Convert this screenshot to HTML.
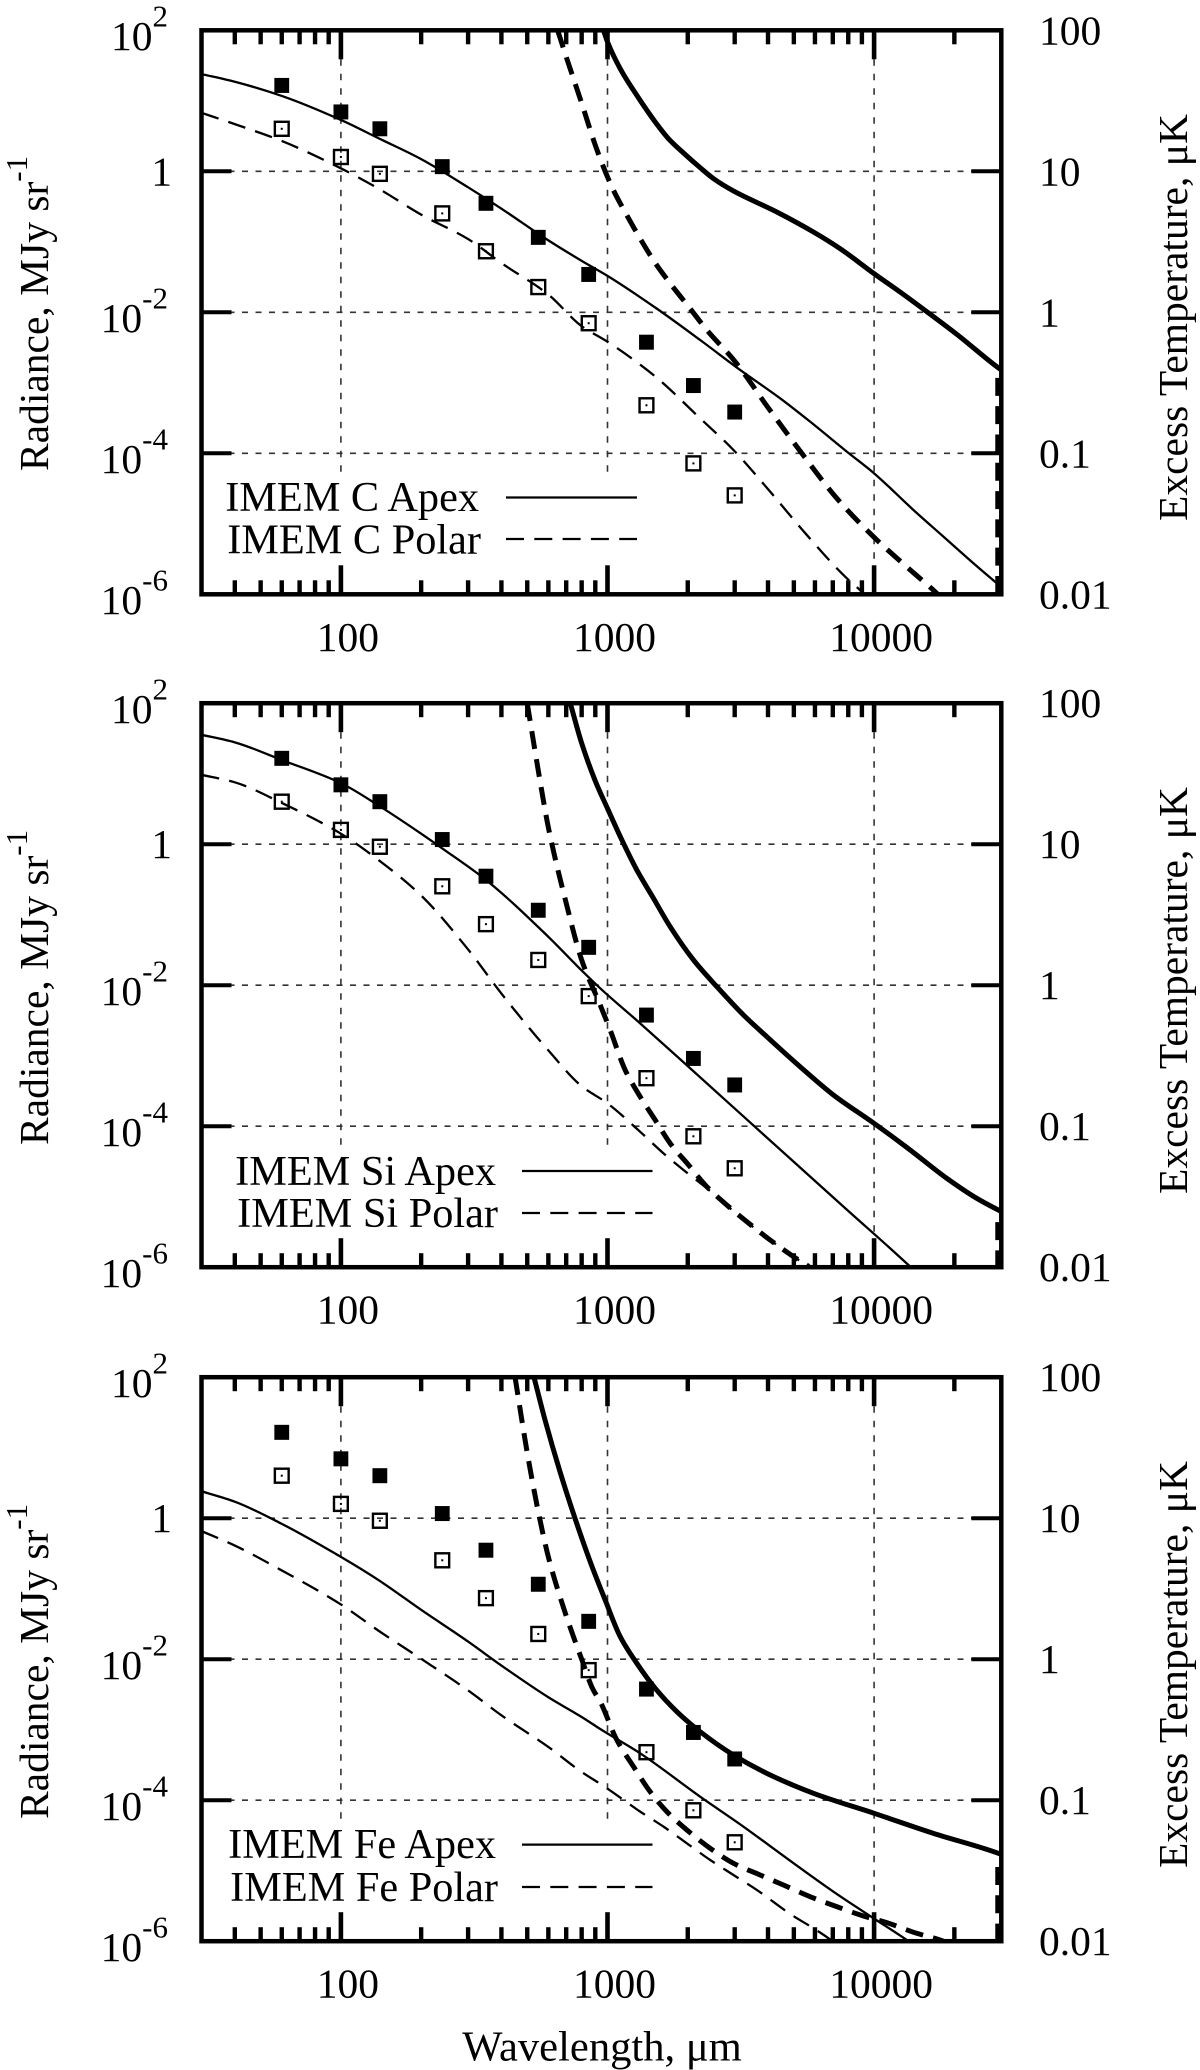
<!DOCTYPE html>
<html lang="en">
<head>
<meta charset="utf-8">
<title>IMEM radiance and excess temperature versus wavelength</title>
<style>
html,body{margin:0;padding:0;background:#fff;}
svg{display:block;}
text{font-family:"Liberation Serif","DejaVu Serif",serif;font-size:41.5px;fill:#000;}
text.legend-label{font-size:42.3px;}
</style>
</head>
<body>
<svg id="figure" xmlns="http://www.w3.org/2000/svg" width="1200" height="2070" viewBox="0 0 1200 2070">
  <rect x="0" y="0" width="1200" height="2070" fill="#fff"/>

  <g id="panel-0">
    <g id="grid-0"></g>
    <rect x="220" y="476" width="420" height="88" fill="#fff"/>
    <g id="marks-0"></g>
    <g id="axes-0"></g>
    <text transform="translate(48,471) rotate(-90)">Radiance, MJy sr<tspan dy="-21" font-size="31">-1</tspan></text>
    <text transform="translate(1187,521) rotate(-90)">Excess Temperature, μK</text>
    <text class="legend-label" x="479" y="511" text-anchor="end">IMEM C Apex</text>
    <text class="legend-label" x="481" y="553.5" text-anchor="end">IMEM C Polar</text>
    <line x1="506" x2="637" y1="497.5" y2="497.5" stroke="#000" stroke-width="2.2"/>
    <line x1="506" x2="637" y1="539" y2="539" stroke="#000" stroke-width="2.2" stroke-dasharray="18 10.3"/>
  </g>

  <g id="panel-1">
    <g id="grid-1"></g>
    <rect x="225" y="1151" width="430" height="86" fill="#fff"/>
    <g id="marks-1"></g>
    <g id="axes-1"></g>
    <text transform="translate(48,1145) rotate(-90)">Radiance, MJy sr<tspan dy="-21" font-size="31">-1</tspan></text>
    <text transform="translate(1187,1194) rotate(-90)">Excess Temperature, μK</text>
    <text class="legend-label" x="496" y="1185" text-anchor="end">IMEM Si Apex</text>
    <text class="legend-label" x="498" y="1227" text-anchor="end">IMEM Si Polar</text>
    <line x1="522" x2="652.5" y1="1171" y2="1171" stroke="#000" stroke-width="2.2"/>
    <line x1="522" x2="652.5" y1="1213" y2="1213" stroke="#000" stroke-width="2.2" stroke-dasharray="18 10.3"/>
  </g>

  <g id="panel-2">
    <g id="grid-2"></g>
    <rect x="225" y="1824" width="430" height="88" fill="#fff"/>
    <g id="marks-2"></g>
    <g id="axes-2"></g>
    <text transform="translate(48,1819) rotate(-90)">Radiance, MJy sr<tspan dy="-21" font-size="31">-1</tspan></text>
    <text transform="translate(1187,1868) rotate(-90)">Excess Temperature, μK</text>
    <text class="legend-label" x="496" y="1858" text-anchor="end">IMEM Fe Apex</text>
    <text class="legend-label" x="498" y="1901" text-anchor="end">IMEM Fe Polar</text>
    <line x1="522" x2="652.5" y1="1844.6" y2="1844.6" stroke="#000" stroke-width="2.2"/>
    <line x1="522" x2="652.5" y1="1887" y2="1887" stroke="#000" stroke-width="2.2" stroke-dasharray="18 10.3"/>
  </g>

  <text x="602" y="2060.5" text-anchor="middle" style="font-size:42.6px">Wavelength, μm</text>
</svg>

<script>
// Observed points, shared by all panels (wavelength in um, log10 radiance)
const obsWavelengths = [60, 100, 140, 240, 350, 550, 850, 1400, 2100, 3000];
const obsFilledLog = [1.218, 0.842, 0.603, 0.066, -0.454, -0.937, -1.463, -2.424, -3.039, -3.415];
const obsOpenLog = [0.603, 0.203, -0.036, -0.597, -1.134, -1.642, -2.155, -3.319, -4.143, -4.597];

// Carbon panel
const carbonApexLam = [30, 40, 60, 100, 140, 200, 300, 400, 600, 800, 1000, 1531, 2226, 3144, 4442, 5754, 7899, 10000, 14044, 18197, 23580, 28840, 30000];
const carbonApexLog = [1.379, 1.27, 1.069, 0.728, 0.460, 0.173, -0.227, -0.53, -0.98, -1.27, -1.483, -1.948, -2.393, -2.818, -3.22, -3.551, -3.976, -4.284, -4.804, -5.182, -5.56, -5.844, -5.9];
const carbonPolarLam = [30, 40, 60, 100, 140, 200, 300, 400, 600, 800, 1000, 1500, 2226, 2968, 4074, 5591, 7780, 9120, 10000];
const carbonPolarLog = [0.830, 0.669, 0.430, 0.042, -0.257, -0.615, -0.961, -1.301, -1.749, -2.197, -2.418, -2.901, -3.504, -3.953, -4.544, -5.158, -5.749, -5.986, -6.15];
const carbonApexTempLam = [966, 1000, 1116, 1288, 1510, 1693, 1928, 2226, 2498, 2968, 4315, 5923, 7457, 10000, 12514, 15524, 20400, 28840, 30000];
const carbonApexTempLog = [2, 1.835, 1.456, 1.078, 0.70, 0.463, 0.26, 0.052, -0.104, -0.279, -0.577, -0.861, -1.097, -1.452, -1.712, -1.972, -2.31, -2.771, -2.818];
const carbonPolarTempLam = [650, 700, 800, 900, 960, 1053, 1182, 1326, 1510, 1718, 2042, 2358, 3012, 4020, 5355, 7244, 10090, 12880, 17180, 19000];
const carbonPolarTempLog = [2, 1.624, 0.967, 0.370, 0.085, -0.27, -0.624, -0.955, -1.30, -1.59, -1.948, -2.251, -2.70, -3.362, -4.0, -4.638, -5.206, -5.57, -5.986, -6.15];

// Silicon panel
const siliconApexLam = [30, 40, 60, 100, 140, 200, 240, 350, 600, 800, 939, 1326, 1984, 3958, 7674, 13450, 15000];
const siliconApexLog = [1.552, 1.445, 1.194, 0.866, 0.537, 0.149, -0.06, -0.507, -1.313, -1.791, -2.044, -2.541, -3.136, -4.16, -5.141, -5.969, -6.14];
const siliconPolarLam = [30, 40, 60, 100, 140, 200, 300, 400, 600, 800, 1000, 1345, 1622, 1928, 2358, 3000, 4074, 4985, 5675, 6500];
const siliconPolarLog = [0.985, 0.878, 0.585, 0.149, -0.239, -0.728, -1.493, -2.119, -2.925, -3.433, -3.676, -4.101, -4.385, -4.621, -4.881, -5.22, -5.614, -5.85, -5.99, -6.2];
const siliconApexTempLam = [725, 800, 900, 1000, 1132, 1288, 1488, 1718, 2101, 2570, 3236, 3958, 5278, 7037, 10000, 13650, 18730, 24270, 29240, 30000];
const siliconApexTempLog = [2, 1.433, 0.896, 0.507, 0.06, -0.366, -0.768, -1.17, -1.642, -2.02, -2.423, -2.73, -3.156, -3.557, -3.96, -4.337, -4.739, -5.023, -5.189, -5.21];
const siliconPolarTempLam = [500, 550, 600, 700, 800, 939, 1023, 1165, 1326, 1510, 1718, 2014, 2358, 2802, 3330, 4074, 4985, 5675, 6500];
const siliconPolarTempLog = [2, 1.045, 0.239, -0.836, -1.642, -2.281, -2.635, -3.203, -3.581, -3.912, -4.243, -4.55, -4.858, -5.118, -5.354, -5.614, -5.85, -5.99, -6.2];

// Iron panel
const ironApexLam = [30, 40, 60, 100, 140, 200, 300, 400, 600, 800, 939, 1326, 2226, 3236, 4705, 7037, 10000, 13260, 15000];
const ironApexLog = [0.382, 0.234, -0.08, -0.549, -0.89, -1.30, -1.75, -2.09, -2.54, -2.82, -2.99, -3.335, -3.95, -4.375, -4.824, -5.297, -5.68, -5.983, -6.13];
const ironPolarLam = [30, 40, 60, 100, 140, 200, 300, 400, 600, 800, 966, 1326, 1622, 1984, 2427, 2968, 3631, 4909, 5923, 6745, 8000];
const ironPolarLog = [-0.183, -0.388, -0.741, -1.223, -1.609, -1.994, -2.443, -2.796, -3.245, -3.6, -3.798, -4.162, -4.375, -4.611, -4.848, -5.061, -5.273, -5.628, -5.817, -5.959, -6.2];
const ironApexTempLam = [530, 583, 664, 755, 860, 980, 1116, 1288, 1510, 1820, 2226, 2968, 3958, 5923, 10000, 16690, 29240, 30000];
const ironApexTempLog = [2, 1.393, 0.655, 0.0, -0.61, -1.16, -1.68, -2.058, -2.413, -2.744, -3.028, -3.359, -3.619, -3.902, -4.186, -4.47, -4.753, -4.77];
const ironPolarTempLam = [450, 500, 550, 600, 700, 800, 880, 939, 1084, 1252, 1445, 1669, 1984, 2427, 2968, 3737, 4571, 5754, 7244, 9120, 11155, 14450, 17680, 21000];
const ironPolarTempLog = [2, 0.928, 0.092, -0.549, -1.384, -2.0, -2.42, -2.602, -3.146, -3.524, -3.879, -4.162, -4.422, -4.682, -4.895, -5.061, -5.203, -5.368, -5.51, -5.642, -5.737, -5.888, -5.983, -6.1];

// Dashed drop at the right edge: log10 radiance where it starts, per panel
const edgeDropStartLog = [-2.93, -5.36, -4.947];
const edgeDropEndLog = -6;
const edgeDropLam = 29100;

// Axis ticks
const xMajorTicks = [100, 1000, 10000];
const xMajorLabels = ['100', '1000', '10000'];
const xMinorTicks = [40, 50, 60, 70, 80, 90, 200, 300, 400, 500, 600, 700, 800, 900, 2000, 3000, 4000, 5000, 6000, 7000, 8000, 9000, 20000];
const yTickLogs = [2, 0, -2, -4, -6];
const yLeftBase = ['10', '1', '10', '10', '10'];
const yLeftExponent = ['2', '', '-2', '-4', '-6'];
const yRightLabels = ['100', '10', '1', '0.1', '0.01'];

// Layout
const NS = 'http://www.w3.org/2000/svg';
const plotLeft = 201.5;
const plotRight = 1001.3;
const plotHeight = 564;
const plotTops = [30.3, 703.2, 1377.2];
const panelNames = ['carbon', 'silicon', 'iron'];
const xDecade = (plotRight - plotLeft) / 3;

function xAxis(lam) {
  return plotLeft + (Math.log10(lam) - Math.log10(30)) * xDecade;
}
function yAxis(panel, logValue) {
  return plotTops[panel] + (2 - logValue) * plotHeight / 8;
}
function make(tag, attrs, parent) {
  const node = document.createElementNS(NS, tag);
  Object.keys(attrs).forEach(function (k) { node.setAttribute(k, attrs[k]); });
  parent.appendChild(node);
  return node;
}
// Monotone cubic through the points, so sparse readings do not overshoot
function smoothPath(points) {
  const n = points.length;
  const h = [];
  const s = [];
  for (let i = 0; i < n - 1; i++) {
    h[i] = Math.max(points[i + 1][0] - points[i][0], 0.001);
    s[i] = (points[i + 1][1] - points[i][1]) / h[i];
  }
  const m = [];
  m[0] = s[0];
  m[n - 1] = s[n - 2];
  for (let i = 1; i < n - 1; i++) {
    if (s[i - 1] * s[i] <= 0) {
      m[i] = 0;
    } else {
      const w1 = 2 * h[i] + h[i - 1];
      const w2 = h[i] + 2 * h[i - 1];
      m[i] = (w1 + w2) / (w1 / s[i - 1] + w2 / s[i]);
    }
  }
  let d = 'M' + points[0][0].toFixed(2) + ' ' + points[0][1].toFixed(2);
  for (let i = 0; i < n - 1; i++) {
    const c1x = points[i][0] + h[i] / 3;
    const c1y = points[i][1] + m[i] * h[i] / 3;
    const c2x = points[i + 1][0] - h[i] / 3;
    const c2y = points[i + 1][1] - m[i + 1] * h[i] / 3;
    d += 'C' + c1x.toFixed(2) + ' ' + c1y.toFixed(2) + ' ' + c2x.toFixed(2) + ' ' + c2y.toFixed(2) + ' ' + points[i + 1][0].toFixed(2) + ' ' + points[i + 1][1].toFixed(2);
  }
  return d;
}

const panelCurves = [
  [
    { label: 'apex-radiance', lam: carbonApexLam, val: carbonApexLog, width: 2.3, dash: '' },
    { label: 'polar-radiance', lam: carbonPolarLam, val: carbonPolarLog, width: 2.3, dash: '18 10.3' },
    { label: 'apex-temperature', lam: carbonApexTempLam, val: carbonApexTempLog, width: 5, dash: '' },
    { label: 'polar-temperature', lam: carbonPolarTempLam, val: carbonPolarTempLog, width: 5, dash: '18 10.3' }
  ],
  [
    { label: 'apex-radiance', lam: siliconApexLam, val: siliconApexLog, width: 2.3, dash: '' },
    { label: 'polar-radiance', lam: siliconPolarLam, val: siliconPolarLog, width: 2.3, dash: '18 10.3' },
    { label: 'apex-temperature', lam: siliconApexTempLam, val: siliconApexTempLog, width: 5, dash: '' },
    { label: 'polar-temperature', lam: siliconPolarTempLam, val: siliconPolarTempLog, width: 5, dash: '18 10.3' }
  ],
  [
    { label: 'apex-radiance', lam: ironApexLam, val: ironApexLog, width: 2.3, dash: '' },
    { label: 'polar-radiance', lam: ironPolarLam, val: ironPolarLog, width: 2.3, dash: '18 10.3' },
    { label: 'apex-temperature', lam: ironApexTempLam, val: ironApexTempLog, width: 5, dash: '' },
    { label: 'polar-temperature', lam: ironPolarTempLam, val: ironPolarTempLog, width: 5, dash: '18 10.3' }
  ]
];

const svgRoot = document.getElementById('figure');
const defs = make('defs', {}, svgRoot);



plotTops.forEach(function (top, p) {
  const name = panelNames[p];
  const bottom = top + plotHeight;
  const gridLayer = document.getElementById('grid-' + p);
  const markLayer = document.getElementById('marks-' + p);
  const axisLayer = document.getElementById('axes-' + p);

  const clip = make('clipPath', { id: 'clip-' + p }, defs);
  make('rect', { x: plotLeft, y: top, width: plotRight - plotLeft, height: plotHeight }, clip);

  // Grid
  yTickLogs.slice(1, 4).forEach(function (v) {
    const line = make('line', { x1: plotLeft, x2: plotRight, y1: yAxis(p, v), y2: yAxis(p, v), stroke: '#333', 'stroke-width': 1.6, 'stroke-dasharray': '6 7.5' }, gridLayer);
    
    
  });
  xMajorTicks.forEach(function (t) {
    const line = make('line', { x1: xAxis(t), x2: xAxis(t), y1: top, y2: bottom, stroke: '#333', 'stroke-width': 1.6, 'stroke-dasharray': '6.5 8' }, gridLayer);
    
    
  });

  // Curves
  const curveGroup = make('g', { 'clip-path': 'url(#clip-' + p + ')' }, markLayer);
  
  
  panelCurves[p].forEach(function (c) {
    const pts = c.lam.map(function (l, i) { return [xAxis(l), yAxis(p, c.val[i])]; });
    const attrs = { d: smoothPath(pts), fill: 'none', stroke: '#000', 'stroke-width': c.width };
    if (c.dash) { attrs['stroke-dasharray'] = c.dash; }
    const path = make('path', attrs, curveGroup);
    
    
  });
  const drop = make('line', { x1: xAxis(edgeDropLam), x2: xAxis(edgeDropLam), y1: yAxis(p, edgeDropStartLog[p]), y2: yAxis(p, edgeDropEndLog), stroke: '#000', 'stroke-width': 5, 'stroke-dasharray': '18 10.3' }, curveGroup);
  
  

  // Observed points
  obsWavelengths.forEach(function (l, i) {
    const fx = xAxis(l);
    const fy = yAxis(p, obsFilledLog[i]);
    const filled = make('rect', { x: fx - 7.4, y: fy - 7.5, width: 14.8, height: 15, fill: '#000' }, markLayer);
    
    
    const oy = yAxis(p, obsOpenLog[i]);
    const open = make('rect', { x: fx - 6.9, y: oy - 7, width: 13.8, height: 14, fill: 'none', stroke: '#000', 'stroke-width': 2.4 }, markLayer);
    
    
    const dot = make('rect', { x: fx - 1, y: oy - 1, width: 2, height: 2, fill: '#000' }, markLayer);
    
    
  });

  // Frame
  const frame = make('rect', { x: plotLeft, y: top, width: plotRight - plotLeft, height: plotHeight, fill: 'none', stroke: '#000', 'stroke-width': 4.5 }, axisLayer);
  
  

  // X ticks
  xMinorTicks.forEach(function (t) {
    [[top, top + 14], [bottom, bottom - 14]].forEach(function (s) {
      const tick = make('line', { x1: xAxis(t), x2: xAxis(t), y1: s[0], y2: s[1], stroke: '#000', 'stroke-width': 4.4 }, axisLayer);
      
      
    });
  });
  xMajorTicks.forEach(function (t, i) {
    [[top, top + 29], [bottom, bottom - 29]].forEach(function (s) {
      const tick = make('line', { x1: xAxis(t), x2: xAxis(t), y1: s[0], y2: s[1], stroke: '#000', 'stroke-width': 4.6 }, axisLayer);
      
      
    });
    const label = make('text', { x: xAxis(t) + 7, y: bottom + 56.5, 'text-anchor': 'middle' }, axisLayer);
    label.textContent = xMajorLabels[i];
    
    
  });

  // Y ticks and labels
  yTickLogs.forEach(function (v, i) {
    const ty = yAxis(p, v);
    if (i > 0 && i < yTickLogs.length - 1) {
      const left = make('line', { x1: plotLeft, x2: plotLeft + 30, y1: ty, y2: ty, stroke: '#000', 'stroke-width': 4 }, axisLayer);
      
      
      const right = make('line', { x1: plotRight, x2: plotRight - 30, y1: ty, y2: ty, stroke: '#000', 'stroke-width': 4 }, axisLayer);
      
      
    }
    const hasExp = yLeftExponent[i] !== '';
    const leftLabel = make('text', { x: hasExp ? 168 : 172, y: ty + (hasExp ? 19.7 : 14), 'text-anchor': 'end' }, axisLayer);
    leftLabel.textContent = yLeftBase[i];
    
    
    if (hasExp) {
      const sup = make('tspan', { dy: -23.5, 'font-size': 31 }, leftLabel);
      sup.textContent = yLeftExponent[i];
      
      
    }
    const rightLabel = make('text', { x: 1039, y: ty + 14 }, axisLayer);
    rightLabel.textContent = yRightLabels[i];
    
    
  });
});
</script>
</body>
</html>
